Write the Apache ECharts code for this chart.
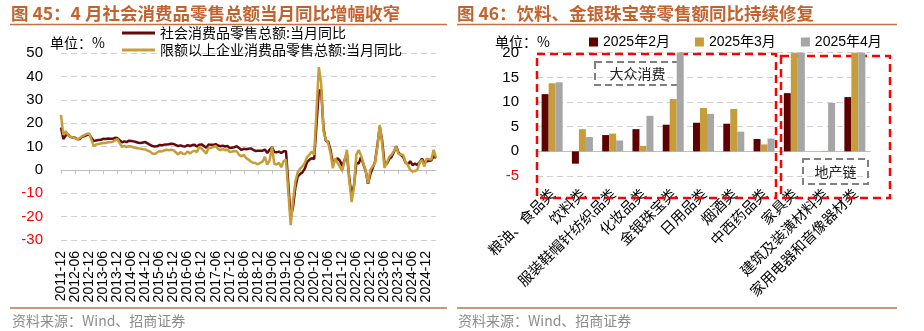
<!DOCTYPE html>
<html>
<head>
<meta charset="utf-8">
<script src="https://cdn.jsdelivr.net/npm/echarts@6/dist/echarts.min.js"></script>
<style>
  html, body { margin: 0; padding: 0; background: #fff; }
  #c { width: 924px; height: 331px; }
</style>
</head>
<body>
<div id="c"></div>
<script>
// ---- Left panel: monthly YoY growth, 2011-12 .. 2025-04 ----
const months = [];
for (let y = 2011, m = 12; y < 2025 || (y === 2025 && m <= 4);) {
  months.push(y + '-' + String(m).padStart(2, '0'));
  m++; if (m > 12) { m = 1; y++; }
}

// 社会消费品零售总额:当月同比 (January usually not published -> null)
const retailYoY = [
  18.1,
  13.2, 14.7, 15.2, 14.1, 13.8, 13.7, 13.1, 13.2, 14.2, 14.5, 14.9, 15.2,
  null, 12.3, 12.6, 12.8, 12.9, 13.3, 13.2, 13.4, 13.3, 13.3, 13.7, 13.6,
  null, 11.8, 12.2, 11.9, 12.5, 12.4, 12.2, 11.9, 11.6, 11.5, 11.7, 11.9,
  null, 10.7, 10.2, 10.0, 10.1, 10.6, 10.5, 10.8, 10.9, 11.0, 11.2, 11.1,
  null, 10.2, 10.5, 10.1, 10.0, 10.6, 10.2, 10.6, 10.7, 10.0, 10.8, 10.9,
  null, 9.5, 10.9, 10.7, 10.7, 11.0, 10.4, 10.1, 10.3, 10.0, 10.2, 9.4,
  null, 9.7, 10.1, 9.4, 8.5, 9.0, 8.8, 9.0, 9.2, 8.6, 8.1, 8.2,
  null, 8.2, 8.7, 7.2, 8.6, 9.8, 7.6, 7.5, 7.8, 7.2, 8.0, 8.0,
  null, -20.5, -15.8, -7.5, -2.8, -1.8, -1.1, 0.5, 3.3, 4.3, 5.0, 4.6,
  null, 33.8, 34.2, 17.7, 12.4, 12.1, 8.5, 2.5, 4.4, 4.9, 3.9, 1.7,
  null, 6.7, -3.5, -11.1, -6.7, 3.1, 2.7, 5.4, 2.5, -0.5, -5.9, -1.8,
  null, 3.5, 10.6, 18.4, 12.7, 3.1, 2.5, 4.6, 5.5, 7.6, 10.1, 7.4,
  null, 5.5, 3.1, 2.3, 3.7, 2.0, 2.7, 2.1, 3.2, 4.8, 3.0, 3.7,
  null, 4.0, 5.9, 5.1
];

// 限额以上企业消费品零售总额:当月同比
const aboveLimitYoY = [
  23.5,
  15.0, 16.5, 15.0, 14.2, 13.9, 13.6, 13.1, 13.6, 14.4, 14.9, 15.4, 15.6,
  null, 10.1, 10.9, 11.1, 11.3, 11.5, 11.5, 11.8, 11.8, 12.0, 12.6, 13.2,
  null, 9.9, 10.2, 9.8, 10.1, 10.0, 9.6, 9.4, 9.2, 9.0, 8.8, 8.7,
  null, 7.8, 7.0, 6.8, 7.4, 8.1, 7.9, 8.3, 8.6, 8.4, 8.6, 8.4,
  null, 6.6, 7.6, 6.9, 6.8, 7.9, 7.0, 7.8, 8.2, 7.6, 9.9, 9.1,
  null, 7.0, 9.6, 9.4, 9.8, 10.2, 8.9, 8.4, 8.9, 8.4, 8.7, 7.6,
  null, 8.1, 7.9, 6.4, 5.8, 6.5, 5.0, 4.4, 3.6, 3.0, 2.9, 2.4,
  null, 3.5, 5.6, 2.2, 4.0, 9.9, 2.6, 2.3, 3.1, 1.1, 3.8, 4.4,
  null, -23.6, -13.0, -5.0, -1.0, 0.5, 1.5, 3.0, 5.5, 6.5, 7.9, 6.4,
  null, 44.0, 37.0, 16.5, 13.0, 11.4, 7.0, 0.7, 5.0, 3.0, 1.4, -0.5,
  null, 8.6, -4.5, -13.8, -7.5, 6.4, 8.5, 6.2, 2.8, -0.3, -5.7, 0.0,
  null, 3.0, 10.0, 19.3, 11.5, 0.8, 3.0, 5.5, 6.5, 8.0, 10.0, 6.8,
  null, 6.4, 3.2, 2.1, 0.0, -0.7, -0.5, 0.0, 3.0, 4.3, 1.4, 4.8,
  null, 4.3, 8.6, 5.4
];

// ---- Right panel: retail sales by category, YoY % ----
const categories = [
  '粮油、食品类', '饮料类', '服装鞋帽针纺织品类', '化妆品类', '金银珠宝类',
  '日用品类', '烟酒类', '中西药品类', '家具类', '建筑及装潢材料类', '家用电器和音像器材类'
];
const feb2025 = [11.6, -2.5, 3.3, 4.5, 5.4, 5.8, 5.6, 2.5, 11.8, 0.0, 11.0];
const mar2025 = [13.8, 4.5, 3.6, 1.1, 10.6, 8.8, 8.6, 1.4, 29.5, 0.1, 35.1];
const apr2025 = [14.0, 2.9, 2.2, 7.2, 21.8, 7.6, 4.0, 2.6, 26.9, 9.8, 38.8];

const leftTicksY = { min: -30, max: 50, step: 10 };
const rightTicksY = { min: -5, max: 20, step: 5 };

const CJK = '"Noto Sans CJK SC", sans-serif';
const NUM = '"Liberation Sans", Arial, "Noto Sans CJK SC", sans-serif';
const C_DARK = '#650A0A';
const C_GOLD = '#C79D3A';
const C_GRAY = '#A6A6A6';
const C_FEB = '#5E0000';
const C_TITLE = '#C4622D';
const C_RULE = '#C0714B';
const negRed = v => (v < 0 ? '#FF0000' : '#000000');

const chart = echarts.init(document.getElementById('c'), null, { renderer: 'canvas' });

const splitDash = { show: true, lineStyle: { color: '#D0D0D0', type: [6, 4], width: 1 } };

chart.setOption({
  animation: false,
  textStyle: { fontFamily: NUM },
  grid: [
    { left: 61, top: 53, width: 375, height: 187 },
    { left: 537, top: 52.7, width: 333, height: 123.3 }
  ],
  xAxis: [
    { // zero line with half-year ticks
      gridIndex: 0, type: 'category', data: months, boundaryGap: false, position: 'top',
      axisLine: { onZero: true, lineStyle: { color: '#BFBFBF', width: 1 } },
      axisTick: { inside: true, interval: 5, length: 4, lineStyle: { color: '#BFBFBF' } },
      axisLabel: { show: false }, splitLine: { show: false }
    },
    { // date labels along the bottom
      gridIndex: 0, type: 'category', data: months, boundaryGap: false, position: 'bottom',
      axisLine: { show: false, onZero: false }, axisTick: { show: false },
      axisLabel: { interval: 5, rotate: 90, fontSize: 14, color: '#000', margin: 11, fontFamily: NUM }
    },
    {
      gridIndex: 1, type: 'category', data: categories, position: 'top',
      axisLine: { onZero: true, lineStyle: { color: '#BFBFBF', width: 1 } },
      axisTick: { inside: true, length: 4, lineStyle: { color: '#BFBFBF' } },
      axisLabel: { show: false }
    },
    {
      gridIndex: 1, type: 'category', data: categories, position: 'bottom',
      axisLine: { show: false, onZero: false }, axisTick: { show: false },
      axisLabel: { interval: 0, rotate: 45, fontSize: 14.5, fontFamily: CJK, color: '#000', margin: 15 }
    }
  ],
  yAxis: [
    {
      gridIndex: 0, type: 'value', min: leftTicksY.min, max: leftTicksY.max, interval: leftTicksY.step,
      axisLine: { show: false }, axisTick: { show: false }, splitLine: splitDash,
      axisLabel: { fontSize: 15, fontFamily: NUM, color: negRed, margin: 18 }
    },
    {
      gridIndex: 1, type: 'value', min: rightTicksY.min, max: rightTicksY.max, interval: rightTicksY.step,
      axisLine: { show: false }, axisTick: { show: false }, splitLine: splitDash,
      axisLabel: { fontSize: 15, fontFamily: NUM, color: negRed, margin: 18 }
    }
  ],
  legend: [
    {
      data: ['社会消费品零售总额:当月同比', '限额以上企业消费品零售总额:当月同比'],
      orient: 'vertical', left: 117, top: 21, itemWidth: 33, itemHeight: 3, itemGap: 3,
      icon: 'rect', textStyle: { fontSize: 14, fontFamily: CJK, color: '#000' }
    },
    {
      data: ['2025年2月', '2025年3月', '2025年4月'],
      left: 584, top: 30, itemWidth: 9, itemHeight: 9, itemGap: 25,
      icon: 'rect', textStyle: { fontSize: 14, fontFamily: NUM, color: '#000' }
    }
  ],
  series: [
    {
      name: '社会消费品零售总额:当月同比', type: 'line', xAxisIndex: 0, yAxisIndex: 0,
      data: retailYoY, connectNulls: true, showSymbol: false,
      lineStyle: { color: C_DARK, width: 2.5 }, itemStyle: { color: C_DARK }
    },
    {
      name: '限额以上企业消费品零售总额:当月同比', type: 'line', xAxisIndex: 0, yAxisIndex: 0,
      data: aboveLimitYoY, connectNulls: true, showSymbol: false,
      lineStyle: { color: C_GOLD, width: 2.5 }, itemStyle: { color: C_GOLD }
    },
    {
      name: '2025年2月', type: 'bar', xAxisIndex: 2, yAxisIndex: 1, data: feb2025,
      barWidth: 7, barGap: '0%', itemStyle: { color: C_FEB }
    },
    {
      name: '2025年3月', type: 'bar', xAxisIndex: 2, yAxisIndex: 1, data: mar2025,
      barWidth: 7, barGap: '0%', itemStyle: { color: C_GOLD }
    },
    {
      name: '2025年4月', type: 'bar', xAxisIndex: 2, yAxisIndex: 1, data: apr2025,
      barWidth: 7, barGap: '0%', itemStyle: { color: C_GRAY }
    }
  ],
  graphic: [
    // panel titles and rules
    { type: 'text', x: 11, y: 13, style: { text: '图 45：4 月社会消费品零售总额当月同比增幅收窄', font: 'bold 17.5px "Noto Sans CJK SC"', fill: C_TITLE, verticalAlign: 'middle' } },
    { type: 'text', x: 457, y: 13, style: { text: '图 46：饮料、金银珠宝等零售额同比持续修复', font: 'bold 17.5px "Noto Sans CJK SC"', fill: C_TITLE, verticalAlign: 'middle' } },
    { type: 'line', shape: { x1: 10, y1: 24.5, x2: 447, y2: 24.5 }, style: { stroke: C_RULE, lineWidth: 1.5 } },
    { type: 'line', shape: { x1: 457, y1: 24.5, x2: 897, y2: 24.5 }, style: { stroke: C_RULE, lineWidth: 1.5 } },
    { type: 'line', shape: { x1: 10, y1: 308, x2: 447, y2: 308 }, style: { stroke: C_RULE, lineWidth: 1.5 } },
    { type: 'line', shape: { x1: 457, y1: 308, x2: 897, y2: 308 }, style: { stroke: C_RULE, lineWidth: 1.5 } },
    { type: 'text', x: 12, y: 321, style: { text: '资料来源：Wind、招商证券', font: '14px "Noto Sans CJK SC"', fill: '#8C8C8C', verticalAlign: 'middle' } },
    { type: 'text', x: 458, y: 321, style: { text: '资料来源：Wind、招商证券', font: '14px "Noto Sans CJK SC"', fill: '#8C8C8C', verticalAlign: 'middle' } },
    // unit captions
    { type: 'text', x: 50, y: 43, style: { text: '单位：%', font: '14px "Noto Sans CJK SC"', fill: '#000', verticalAlign: 'middle' } },
    { type: 'text', x: 495, y: 42, style: { text: '单位：%', font: '14px "Noto Sans CJK SC"', fill: '#000', verticalAlign: 'middle' } },
    // group frames on the category panel
    { type: 'rect', z: 1, shape: { x: 537, y: 54, width: 239, height: 144 }, style: { fill: 'none', stroke: '#FF0000', lineWidth: 2.5, lineDash: [8, 5] } },
    { type: 'rect', z: 1, shape: { x: 781, y: 56, width: 109, height: 142 }, style: { fill: 'none', stroke: '#FF0000', lineWidth: 2.5, lineDash: [8, 5] } },
    { type: 'rect', z: 1, shape: { x: 595, y: 62, width: 85, height: 23 }, style: { fill: 'none', stroke: '#808080', lineWidth: 2, lineDash: [7, 4] } },
    { type: 'text', z: 1, x: 637.5, y: 73.5, style: { text: '大众消费', font: '14px "Noto Sans CJK SC"', fill: '#222', align: 'center', verticalAlign: 'middle' } },
    { type: 'rect', z: 1, shape: { x: 803, y: 159, width: 65, height: 25 }, style: { fill: 'none', stroke: '#808080', lineWidth: 2, lineDash: [7, 4] } },
    { type: 'text', z: 1, x: 835.5, y: 171.5, style: { text: '地产链', font: '14px "Noto Sans CJK SC"', fill: '#222', align: 'center', verticalAlign: 'middle' } }
  ]
});
</script>
</body>
</html>
